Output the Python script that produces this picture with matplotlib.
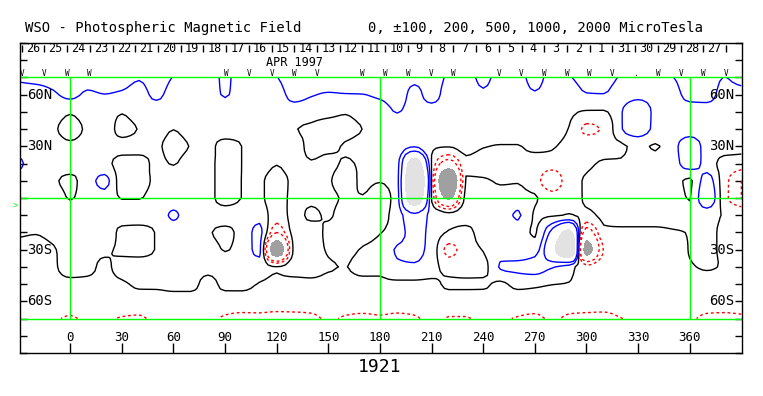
import matplotlib
matplotlib.use('Agg')
import matplotlib.pyplot as plt
import numpy as np

plt.rcParams['font.family'] = ['DejaVu Sans Mono']

# grid: longitude every 10 deg, rows in chart units (7 = 90N, -7 = 90S)
lons = list(range(-30, 391, 10))
rows_y = [7, 6, 5, 4, 3, 2, 1, 0, -1, -2, -3, -4, -5, -6, -7]

# field values (microTesla), one list per row, north to south
row_p7 = [116, 135, 150, 170, 150, 160, 150, 110, 160, 94, 60, 50, 120, 50, 60, 95, 170, 165, 168, 170,
          170, 170, 180, 140, 165, 80, 60, 130, 60, 55, 150, 55, 93, 133, 140, 90, 60, 75, 95, 170, 170, 97, 155]
row_p6 = [60, 60, 85, 125, 85, 98, 83, 60, 125, 60, 60, 55, 108, 55, 60, 60, 135, 108, 90, 95,
          98, 120, 160, 60, 150, 50, 50, 83, 55, 55, 88, 55, 55, 95, 97, 60, 70, 60, 60, 140, 145, 60, 60]
row_p5 = [45, 50, 50, 10, 50, 50, 7, 50, 50, 50, 50, 50, 50, 50, 50, 50, 50, 40, 30, 10,
          50, 50, 105, 50, 50, 45, 45, 45, 45, 45, 45, 45, 20, -10, -10, 90, 200, 75, 50, 50, 50, 50, 50]
row_p4 = [40, 40, 15, -40, 19, 60, -40, 6, 40, 2, 40, 40, 60, 40, 40, 40, 5, -15, -40, -40,
          2, 40, 40, 40, 40, 40, 40, 40, 40, 40, 40, 40, -5, -120, -90, 90, 170, 75, 50, 50, 40, 40, 40]
row_p3 = [40, 40, 40, 20, 40, 40, 43, 40, 20, -40, 5, 28, -40, 2, 40, 40, 40, -25, -20, 10,
          40, 40, 50, 90, 10, 5, 30, 5, -5, -5, 30, 10, -30, -40, -40, -15, 20, -8, 60, 170, 60, 30, 20]
row_p2 = [130, 40, 40, 40, 40, 30, -40, -40, 22, -5, 40, 28, -40, 2, 40, 5, 40, 8, 20, -10,
          15, 40, 60, 700, -5, -300, -20, -40, -40, -40, -60, -50, -40, -20, 10, 10, 40, 40, 60, 150, 60, -30, -40]
row_p1 = [40, 40, 13, -20, 53, 132, -40, -40, 22, 40, 40, 28, -40, 2, 10, -40, 21, 40, 10, -40,
          15, 5, 60, 950, -5, -950, 10, 10, -10, -5, -60, -170, -40, 10, 40, 40, 40, 40, 30, -15, 150, -60, -200]
row_00 = [40, 40, 40, -5, 40, 60, -5, -5, 40, 40, 40, 28, -40, 2, 10, -40, 21, 20, 20, -10,
          -5, -40, 50, 800, -5, -550, 40, 40, 30, 30, 10, -50, -30, 10, 40, 40, 40, 40, 40, -5, 200, -60, -200]
row_m1 = [40, 40, 40, 40, 40, 40, 60, 60, 40, 118, 40, 40, 52, 40, 60, -60, 30, -15, 10, -40,
          -40, -40, 60, 160, 80, 40, 40, 40, 40, 115, -10, -10, 5, -20, 20, 40, 40, 40, 40, 30, 40, -5, -5]
row_m2 = [16, 6, 30, 40, 40, 77, -30, -40, 5, 40, 40, 10, -25, 40, 130, -200, 30, 40, -20, -40,
          -40, -5, 50, 140, 70, -10, -30, 40, 40, 40, -10, 250, 600, -300, -20, -20, -20, -20, -10, 5, 40, -30, -40]
row_m3 = [-40, -40, -10, 40, 40, 30, -30, -40, 5, 40, 40, 40, -5, 40, 130, -800, 30, 40, -10, -30,
          10, 40, 110, 130, 60, -130, -50, 5, 60, 50, 60, 400, 900, -650, -90, -40, -40, -40, -40, 5, 40, -30, -40]
row_m4 = [-40, -40, -20, 66, 41, -30, 56, 60, 40, 40, 40, 32, 40, 40, 40, 5, 52, 50, 10, -3,
          40, 20, 80, 85, 40, -40, -40, -30, 110, 120, 140, 110, 40, -60, -40, -40, -40, -40, -40, -10, 10, -10, -40]
row_m5 = [-45, -45, -45, -40, -40, -40, -20, 21, 21, 35, 35, -40, 27, 27, -5, -20, -40, -30, -40, -40,
          -40, -20, -20, -20, -20, 15, 15, 15, -20, 30, 20, 3, -5, -40, -40, -40, -40, -40, -40, -40, -40, -40, -40]
row_m6 = [-60, -60, -60, -60, -60, -60, -60, -60, -60, -60, -60, -60, -60, -60, -60, -60, -60, -60, -60, -60,
          -60, -60, -60, -60, -60, -60, -60, -60, -60, -60, -60, -60, -60, -60, -60, -60, -60, -60, -60, -60, -60, -60, -60]
row_m7 = [-85, -85, -90, -110, -85, -90, -105, -110, -85, -85, -85, -85, -110, -120, -120, -130, -130, -120, -90, -110,
          -120, -110, -120, -110, -80, -105, -105, -80, -90, -105, -115, -90, -115, -125, -130, -102, -90, -90, -95, -90, -120, -125, -115]

# carrington day labels along the top, and observation marks
days = [26, 25, 24, 23, 22, 21, 20, 19, 18, 17, 16, 15, 14, 13, 12, 11, 10, 9, 8, 7, 6, 5, 4, 3, 2, 1,
        31, 30, 29, 28, 27]
obs_idx = [0, 1, 2, 3, 9, 10, 11, 12, 13, 15, 16, 17, 18, 19, 21, 22, 23, 24, 25, 26, 27, 28, 29, 30, 31]
obs_mark = ['V', 'V', 'W', 'W', 'W', 'V', 'V', 'W', 'V', 'W', 'W', 'W', 'V', 'W', 'V', 'V', 'W', 'W', 'W', 'V',
            '.', 'W', 'V', 'W', 'V']
lon_ticks = [0, 30, 60, 90, 120, 150, 180, 210, 240, 270, 300, 330, 360]
lat_labels = ['60N', '30N', '30S', '60S']
lat_pos = [6, 3, -3, -6]


def pchip_rows(v, sub):
    # monotone cubic resampling along axis 0 (no overshoot), for smoother contour lines
    n = v.shape[0]
    d = np.diff(v, axis=0)
    m = np.zeros_like(v)
    m[0], m[-1] = d[0], d[-1]
    a, b = d[:-1], d[1:]
    ok = a * b > 0
    m[1:-1] = np.where(ok, 2 * a * b / np.where(ok, a + b, 1.0), 0.0)
    t = np.linspace(0, n - 1, sub * (n - 1) + 1)
    k = np.minimum(t.astype(int), n - 2)
    s = (t - k)[:, None]
    h00 = 2 * s**3 - 3 * s**2 + 1
    h10 = s**3 - 2 * s**2 + s
    h01 = -2 * s**3 + 3 * s**2
    h11 = s**3 - s**2
    return h00 * v[k] + h10 * m[k] + h01 * v[k + 1] + h11 * m[k + 1]


Z = np.array([row_p7, row_p6, row_p5, row_p4, row_p3, row_p2, row_p1, row_00,
              row_m1, row_m2, row_m3, row_m4, row_m5, row_m6, row_m7], dtype=float)
sub = 4
Zf = pchip_rows(pchip_rows(Z, sub).T, sub).T
xf = np.linspace(lons[0], lons[-1], Zf.shape[1])
yf = np.linspace(rows_y[0], rows_y[-1], Zf.shape[0])

fig = plt.figure(figsize=(7.63, 3.96), dpi=100)
ax = fig.add_axes([20 / 763, 43 / 396, 721.5 / 763, 310 / 396])
ax.set_xlim(-29.2, 390.1)
ax.set_ylim(-9, 9)

# shaded strong field, then contour lines
ax.contourf(xf, yf, Zf, levels=[500, 5000], colors=['#e2e2e2'])
ax.contourf(xf, yf, Zf, levels=[-5000, -500], colors=['#a0a0a0'])
ax.contour(xf, yf, Zf, levels=[0], colors='black', linewidths=1.0)
ax.contour(xf, yf, Zf, levels=[100, 200], colors='#0000ff', linewidths=1.0)
neg = ax.contour(xf, yf, Zf, levels=[-200, -100], colors='#ff0000', linewidths=1.0)
neg.set_linestyle((0, (2, 2)))

g = '#00ff00'
for yy in [7, 0, -7]:
    ax.axhline(yy, color=g, lw=1.0)
ax.vlines([0, 180, 360], -7, 7, color=g, lw=1.0)

ax.set_yticks(range(-9, 10))
ax.set_yticklabels([])
ax.tick_params(axis='y', direction='in', length=5, width=1, left=True, right=True)
ax.set_xticks(lon_ticks)
ax.set_xticklabels([])
ax.tick_params(axis='x', direction='in', length=7.5, width=1, bottom=True, top=False)
for s in ax.spines.values():
    s.set_linewidth(1.0)

for lo in lon_ticks:
    ax.text(lo, -8.1, str(lo), ha='center', va='center', fontsize=9)
for lab, yy in zip(lat_labels, lat_pos):
    ax.text(-25.3, yy, lab, ha='left', va='center', fontsize=10)
    ax.text(385.8, yy, lab, ha='right', va='center', fontsize=10)

# top band: day ticks, day numbers, month label, observation marks
day0, dstep = -28.25, 13.206
day_ticks = [day0 + dstep * n for n in range(len(days) + 1)]
ax.vlines(day_ticks, 8.5, 8.9, color='black', lw=1.0)
for i, d in enumerate(days):
    ax.text(day0 + dstep * (i + 0.5), 8.7, str(d), ha='center', va='center', fontsize=8.5)
ax.text(130.5, 7.88, 'APR 1997', ha='center', va='center', fontsize=8.5)
for i, m in zip(obs_idx, obs_mark):
    ax.text(day0 + dstep * i, 7.2, m, ha='center', va='center', fontsize=5.5)

ax.text(-32.2, -0.45, '>', color=g, ha='center', va='center', fontsize=6, clip_on=False)
ax.text(180, -9.84, '1921', ha='center', va='center', fontsize=13, clip_on=False)

fig.text(25 / 763, 1 - 28 / 396, 'WSO - Photospheric Magnetic Field', ha='left', va='center', fontsize=10)
fig.text(368 / 763, 1 - 28 / 396, '0, \u00b1100, 200, 500, 1000, 2000 MicroTesla', ha='left', va='center',
         fontsize=10)

fig.savefig('out.png', dpi=100, facecolor='white')
